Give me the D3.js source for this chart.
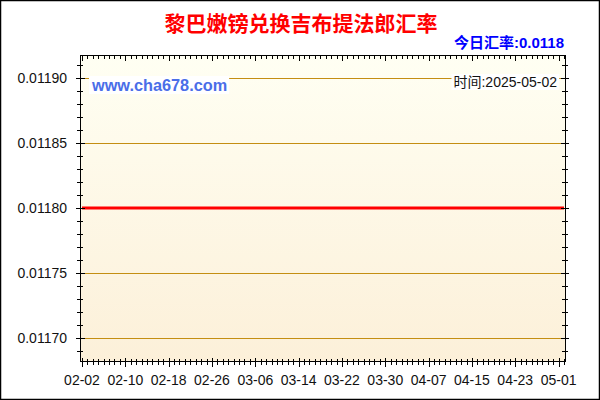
<!DOCTYPE html>
<html>
<head>
<meta charset="utf-8">
<script src="https://cdn.jsdelivr.net/npm/d3@7"></script>
<style>
  body { margin: 0; background: #fff; }
  svg { display: block; }
</style>
</head>
<body>
<svg id="chart" width="600" height="400"></svg>
<script>
const title = "黎巴嫩镑兑换吉布提法郎汇率";
const todayLabel = "今日汇率:0.0118";
const timeLabel = "时间:2025-05-02";
const siteLabel = "www.cha678.com";

// rate read at each labelled date (the line is flat)
const dates = ["2025-02-02", "2025-02-10", "2025-02-18", "2025-02-26", "2025-03-06", "2025-03-14",
  "2025-03-22", "2025-03-30", "2025-04-07", "2025-04-15", "2025-04-23", "2025-05-01", "2025-05-02"];
const rates = [0.0118, 0.0118, 0.0118, 0.0118, 0.0118, 0.0118,
  0.0118, 0.0118, 0.0118, 0.0118, 0.0118, 0.0118, 0.0118];

const xTickLabels = ["02-02", "02-10", "02-18", "02-26", "03-06", "03-14",
  "03-22", "03-30", "04-07", "04-15", "04-23", "05-01"];
const yTickValues = [0.0117, 0.01175, 0.0118, 0.01185, 0.0119];
const yTickLabels = ["0.01170", "0.01175", "0.01180", "0.01185", "0.01190"];

const svg = d3.select("#chart");
const plotL = 80, plotR = 565, plotT = 55, plotB = 361;
const parse = d3.timeParse("%Y-%m-%d");

const data = dates.map((d, i) => ({ date: parse(d), rate: rates[i] }));

const x = d3.scaleTime()
  .domain([parse("2025-02-02"), parse("2025-05-02")])
  .range([82, 564]);

const y = d3.scaleLinear()
  .domain([0.0116823, 0.0119177])
  .range([plotB, plotT]);

// outer frame
svg.append("rect")
  .attr("x", 0.5).attr("y", 0.5)
  .attr("width", 599).attr("height", 399)
  .attr("fill", "#fff")
  .attr("stroke", "#000")
  .attr("stroke-width", 1.5);

// plot background
const grad = svg.append("defs").append("linearGradient")
  .attr("id", "bg").attr("x1", 0).attr("y1", 0).attr("x2", 0).attr("y2", 1);
grad.append("stop").attr("offset", "0%").attr("stop-color", "#fffff3");
grad.append("stop").attr("offset", "100%").attr("stop-color", "#fcf0d9");

svg.append("rect")
  .attr("x", plotL).attr("y", plotT)
  .attr("width", plotR - plotL).attr("height", plotB - plotT)
  .attr("fill", "url(#bg)");

// horizontal grid lines
svg.append("g")
  .selectAll("line")
  .data(yTickValues)
  .join("line")
  .attr("x1", plotL).attr("x2", plotR)
  .attr("y1", d => Math.round(y(d)) + 0.5)
  .attr("y2", d => Math.round(y(d)) + 0.5)
  .attr("stroke", "#c48e12")
  .attr("stroke-width", 1);

// rate line
svg.append("path")
  .datum(data)
  .attr("fill", "none")
  .attr("stroke", "#ff0000")
  .attr("stroke-width", 3)
  .attr("d", d3.line().x(d => x(d.date)).y(d => y(d.rate)));

// plot border
svg.append("rect")
  .attr("x", plotL + 0.5).attr("y", plotT + 0.5)
  .attr("width", plotR - plotL).attr("height", plotB - plotT)
  .attr("fill", "none")
  .attr("stroke", "#000");

const ticks = svg.append("g").attr("stroke", "#000").attr("stroke-width", 1);
const isMajorY = d => yTickValues.some(v => Math.abs(v - d) < 1e-9);

// y ticks, minor every 0.00001, left and right sides
const yMinor = y.ticks(24);
ticks.selectAll(".ym")
  .data(yMinor)
  .join("line")
  .attr("class", "ym")
  .attr("x1", d => isMajorY(d) ? plotL - 4 : plotL - 3)
  .attr("x2", d => isMajorY(d) ? plotL + 5 : plotL + 3)
  .attr("y1", d => Math.round(y(d)) + 0.5)
  .attr("y2", d => Math.round(y(d)) + 0.5);
ticks.selectAll(".yr")
  .data(yMinor)
  .join("line")
  .attr("class", "yr")
  .attr("x1", d => isMajorY(d) ? plotR - 4 : plotR - 3)
  .attr("x2", d => isMajorY(d) ? plotR + 4 : plotR + 3)
  .attr("y1", d => Math.round(y(d)) + 0.5)
  .attr("y2", d => Math.round(y(d)) + 0.5);

// x ticks, one per day, bottom and top
const days = d3.timeDay.range(x.domain()[0], d3.timeDay.offset(x.domain()[1], 1));
const labelSet = new Set(xTickLabels);
const fmt = d3.timeFormat("%m-%d");
ticks.selectAll(".xb")
  .data(days)
  .join("line")
  .attr("class", "xb")
  .attr("x1", d => Math.round(x(d)) + 0.5)
  .attr("x2", d => Math.round(x(d)) + 0.5)
  .attr("y1", d => labelSet.has(fmt(d)) ? plotB - 3 : plotB - 2)
  .attr("y2", d => labelSet.has(fmt(d)) ? plotB + 6 : plotB + 4);
ticks.selectAll(".xt")
  .data(days)
  .join("line")
  .attr("class", "xt")
  .attr("x1", d => Math.round(x(d)) + 0.5)
  .attr("x2", d => Math.round(x(d)) + 0.5)
  .attr("y1", plotT)
  .attr("y2", d => labelSet.has(fmt(d)) ? plotT + 6 : plotT + 4);

// tick labels
svg.append("g")
  .selectAll("text")
  .data(yTickValues)
  .join("text")
  .attr("x", 67)
  .attr("y", d => y(d))
  .attr("dy", "0.36em")
  .attr("text-anchor", "end")
  .attr("font-family", "Liberation Sans, Arial, sans-serif")
  .attr("font-size", 14)
  .attr("fill", "#111")
  .text((d, i) => yTickLabels[i]);

svg.append("g")
  .selectAll("text")
  .data(xTickLabels)
  .join("text")
  .attr("x", d => x(parse("2025-" + d)))
  .attr("y", 385)
  .attr("text-anchor", "middle")
  .attr("font-family", "Liberation Sans, Arial, sans-serif")
  .attr("font-size", 14)
  .attr("fill", "#111")
  .text(d => d);

// titles
svg.append("text")
  .attr("x", 301).attr("y", 31)
  .attr("text-anchor", "middle")
  .attr("font-family", "Noto Sans CJK SC, sans-serif")
  .attr("font-weight", "bold")
  .attr("font-size", 21)
  .attr("fill", "#ff0000")
  .text(title);

svg.append("text")
  .attr("x", 564).attr("y", 48)
  .attr("text-anchor", "end")
  .attr("font-family", "Liberation Sans, Noto Sans CJK SC, sans-serif")
  .attr("font-weight", "bold")
  .attr("font-size", 15)
  .attr("fill", "#0000ff")
  .text(todayLabel);

// watermark and date, on white boxes
function boxedText(tx, ty, anchor, size, weight, color, str) {
  const g = svg.append("g");
  const rect = g.append("rect").attr("fill", "#fff");
  const t = g.append("text")
    .attr("x", tx).attr("y", ty)
    .attr("text-anchor", anchor)
    .attr("font-family", "Liberation Sans, Noto Sans CJK SC, sans-serif")
    .attr("font-weight", weight)
    .attr("font-size", size)
    .attr("fill", color)
    .text(str);
  const b = t.node().getBBox();
  rect.attr("x", b.x - 2).attr("y", b.y).attr("width", b.width + 4).attr("height", b.height);
}

boxedText(92, 91, "start", 16.3, "bold", "#4a6ee8", siteLabel);
boxedText(557, 87, "end", 14, "normal", "#111", timeLabel);
</script>
</body>
</html>
